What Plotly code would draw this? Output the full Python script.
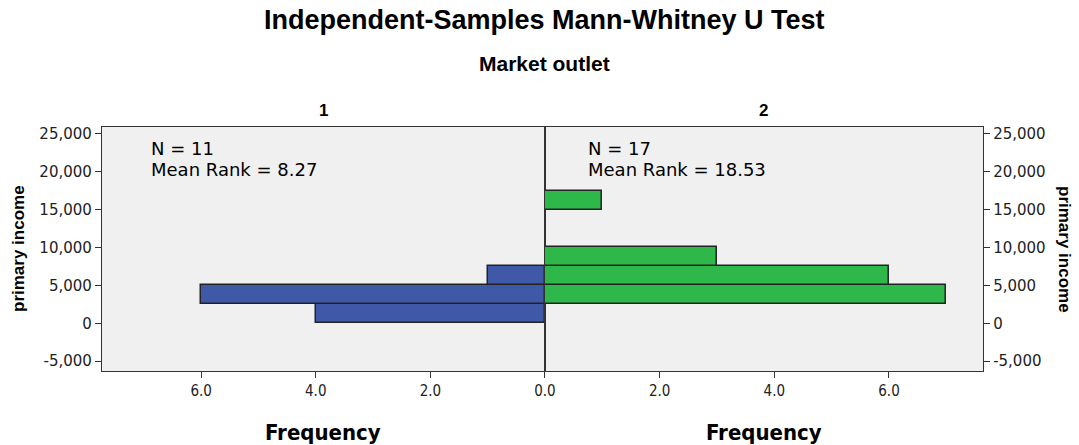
import plotly.graph_objects as go
from plotly.subplots import make_subplots

# histogram bins of primary income (lower edges), width 2500
bin_width = 2500
outlet1_bins = [0, 2500, 5000]
outlet1_freq = [4, 6, 1]
outlet2_bins = [2500, 5000, 7500, 15000]
outlet2_freq = [7, 6, 3, 1]

groups = ["1", "2"]
group_n = [11, 17]
mean_rank = [8.27, 18.53]

y_ticks = [-5000, 0, 5000, 10000, 15000, 20000, 25000]
y_tick_labels = ["-5,000", "0", "5,000", "10,000", "15,000", "20,000", "25,000"]
x_ticks_left = [2, 4, 6]
x_ticks_right = [0, 2, 4, 6]

blue = "#3F58A8"
green = "#2EB84A"
mid = 0.5028

fig = make_subplots(rows=1, cols=2, horizontal_spacing=0)

fig.add_trace(go.Bar(
    y=[b + bin_width / 2 for b in outlet1_bins], x=outlet1_freq,
    orientation="h", width=bin_width, marker_color=blue,
    marker_line=dict(color="#222", width=1.5), showlegend=False), row=1, col=1)
fig.add_trace(go.Bar(
    y=[b + bin_width / 2 for b in outlet2_bins], x=outlet2_freq,
    orientation="h", width=bin_width, marker_color=green,
    marker_line=dict(color="#222", width=1.5), showlegend=False), row=1, col=2)

tickfont = dict(family="DejaVu Sans", size=15, color="#222")
narrow = dict(family="DejaVu Sans Condensed, DejaVu Sans", size=15, color="#222")
axis_common = dict(showline=True, linecolor="#333", linewidth=1.3, mirror=True,
                   ticks="outside", ticklen=6, tickcolor="#333", showgrid=False,
                   zeroline=False)

fig.update_xaxes(domain=[0, mid], range=[7.73, 0], tickvals=x_ticks_left,
                 tickformat=".1f", tickfont=narrow, row=1, col=1, **axis_common)
fig.update_xaxes(domain=[mid, 1], range=[0, 7.64], tickvals=x_ticks_right,
                 tickformat=".1f", tickfont=narrow, row=1, col=2, **axis_common)
fig.update_yaxes(range=[-6300, 25900], tickvals=y_ticks, ticktext=y_tick_labels,
                 tickfont=tickfont, row=1, col=1, **axis_common)
fig.update_yaxes(range=[-6300, 25900], tickvals=y_ticks, ticktext=y_tick_labels,
                 tickfont=tickfont, side="right", row=1, col=2, **axis_common)

bold = "Liberation Sans"
annotations = [
    dict(text="<b>Independent-Samples Mann-Whitney U Test</b>", xref="paper", yref="paper",
         x=mid, y=1, yshift=107, xanchor="center", yanchor="middle", showarrow=False,
         font=dict(family=bold, size=27, color="black")),
    dict(text="<b>Market outlet</b>", xref="paper", yref="paper",
         x=mid, y=1, yshift=64, xanchor="center", yanchor="middle", showarrow=False,
         font=dict(family=bold, size=21, color="black")),
]
for i, g in enumerate(groups):
    cx = mid / 2 if i == 0 else (1 + mid) / 2
    annotations.append(dict(text=f"<b>{g}</b>", xref="paper", yref="paper", x=cx, y=1,
                            yshift=17, xanchor="center", yanchor="middle", showarrow=False,
                            font=dict(family=bold, size=17, color="black")))
    annotations.append(dict(text="<b>Frequency</b>", xref="paper", yref="paper", x=cx, y=0,
                            yshift=-61, xanchor="center", yanchor="middle", showarrow=False,
                            font=dict(family="DejaVu Sans Condensed, DejaVu Sans",
                                      size=22, color="black")))
    ax = 0.053 if i == 0 else mid + 0.047
    lines = [f"N = {group_n[i]}", f"Mean Rank = {mean_rank[i]:.2f}"]
    for k, line in enumerate(lines):
        annotations.append(dict(text=line, xref="paper", yref="paper", x=ax, y=1,
                                yshift=-21 - 21 * k, xanchor="left", yanchor="middle",
                                showarrow=False,
                                font=dict(family="DejaVu Sans", size=18, color="black")))
annotations.append(dict(text="<b>primary income</b>", xref="paper", yref="paper", x=0, y=0.5,
                        xshift=-84, xanchor="center", yanchor="middle", textangle=-90,
                        showarrow=False, font=dict(family=bold, size=17, color="black")))
annotations.append(dict(text="<b>primary income</b>", xref="paper", yref="paper", x=1, y=0.5,
                        xshift=82, xanchor="center", yanchor="middle", textangle=90,
                        showarrow=False, font=dict(family=bold, size=17, color="black")))

fig.update_layout(
    width=1079, height=445,
    margin=dict(l=102, r=96, t=127, b=74),
    plot_bgcolor="#F0F0F0", paper_bgcolor="white",
    bargap=0, annotations=annotations,
)

# drop the browser's default body margin so the figure starts at the page corner
fig.write_html("out.html", config={"displayModeBar": False},
               post_script="document.body.style.margin = '0';")
